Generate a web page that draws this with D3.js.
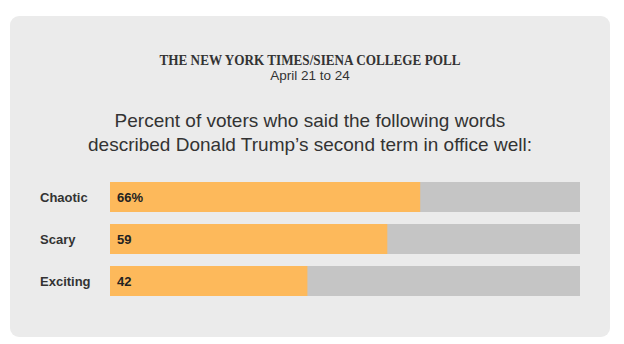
<!DOCTYPE html>
<html>
<head>
<meta charset="utf-8">
<script src="https://cdn.jsdelivr.net/npm/d3@7"></script>
<style>
  body { margin: 0; background: #fff; }
</style>
</head>
<body>
<div id="chart"></div>
<script>
const categories = ['Chaotic', 'Scary', 'Exciting'];
const values = [66, 59, 42];
const valueLabels = ['66%', '59', '42'];
const pollTitle = 'THE NEW YORK TIMES/SIENA COLLEGE POLL';
const pollDates = 'April 21 to 24';
const headline = ['Percent of voters who said the following words', 'described Donald Trump\u2019s second term in office well:'];

const width = 624, height = 344;
const colors = { card: '#ebebeb', bar: '#fdb95b', track: '#c5c5c5', text: '#333' };

const svg = d3.select('#chart').append('svg')
    .attr('width', width)
    .attr('height', height);

// card
svg.append('rect')
    .attr('x', 10).attr('y', 16)
    .attr('width', 600).attr('height', 321)
    .attr('rx', 9)
    .attr('fill', colors.card);

// header
svg.append('text')
    .attr('x', 310).attr('y', 65)
    .attr('text-anchor', 'middle')
    .attr('font-family', 'Liberation Serif, serif')
    .attr('font-weight', 'bold')
    .attr('font-size', 15)
    .attr('textLength', 301)
    .attr('lengthAdjust', 'spacingAndGlyphs')
    .attr('fill', colors.text)
    .text(pollTitle);

svg.append('text')
    .attr('x', 310).attr('y', 80)
    .attr('text-anchor', 'middle')
    .attr('font-family', 'Liberation Sans, Arial, sans-serif')
    .attr('font-size', 13.5)
    .attr('fill', colors.text)
    .text(pollDates);

svg.selectAll('.headline')
    .data(headline)
    .join('text')
    .attr('class', 'headline')
    .attr('x', 310)
    .attr('y', (d, i) => 127 + i * 24)
    .attr('text-anchor', 'middle')
    .attr('font-family', 'Liberation Sans, Arial, sans-serif')
    .attr('font-size', 19)
    .attr('fill', colors.text)
    .text(d => d);

// bars
const x = d3.scaleLinear().domain([0, 100]).range([110, 580]);
const y = d3.scaleBand().domain(categories).range([182, 296]).paddingInner(12 / 42).paddingOuter(0);

const rows = svg.selectAll('.row')
    .data(categories)
    .join('g')
    .attr('class', 'row')
    .attr('transform', d => `translate(0,${y(d)})`);

rows.append('rect')
    .attr('x', x(0))
    .attr('width', x(100) - x(0))
    .attr('height', y.bandwidth())
    .attr('fill', colors.track);

rows.append('rect')
    .attr('x', x(0))
    .attr('width', (d, i) => x(values[i]) - x(0))
    .attr('height', y.bandwidth())
    .attr('fill', colors.bar);

rows.append('text')
    .attr('x', 40)
    .attr('y', y.bandwidth() / 2)
    .attr('dy', '0.35em')
    .attr('font-family', 'Liberation Sans, Arial, sans-serif')
    .attr('font-weight', 'bold')
    .attr('font-size', 13)
    .attr('fill', colors.text)
    .text(d => d);

rows.append('text')
    .attr('x', x(0) + 7)
    .attr('y', y.bandwidth() / 2)
    .attr('dy', '0.35em')
    .attr('font-family', 'Liberation Sans, Arial, sans-serif')
    .attr('font-weight', 'bold')
    .attr('font-size', 13)
    .attr('fill', '#222')
    .text((d, i) => valueLabels[i]);
</script>
</body>
</html>
